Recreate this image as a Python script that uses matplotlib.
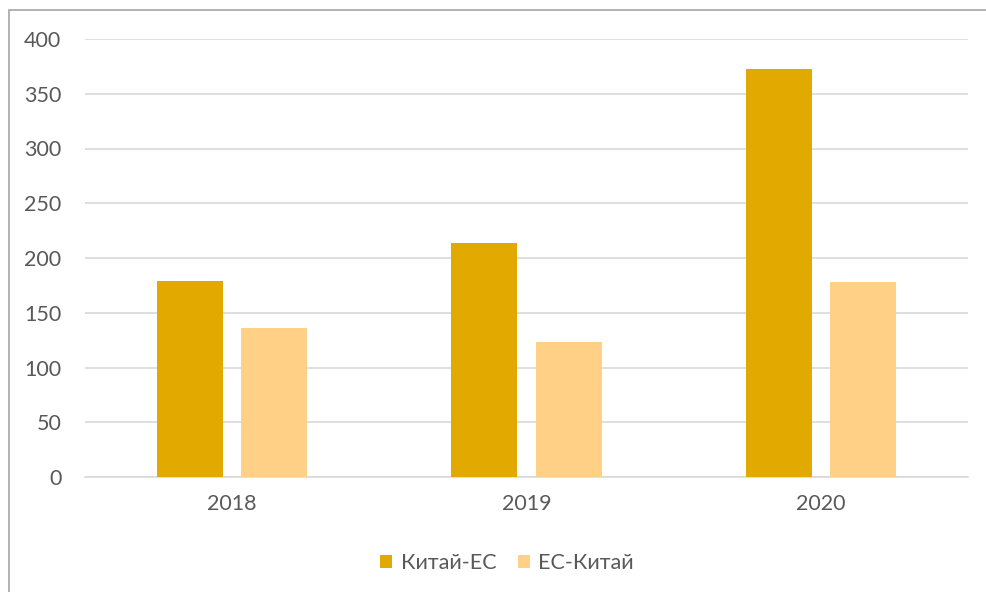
import numpy as np
import matplotlib.pyplot as plt
from matplotlib.patches import Rectangle

years = ["2018", "2019", "2020"]
china_eu = [179, 214, 373]
eu_china = [136, 123, 178]
series_names = ["Китай-ЕС", "ЕС-Китай"]

plt.rcParams['font.family'] = ['Lato', 'DejaVu Sans']
text_col = "#595959"
grid_col = "#d9d9d9"

fig = plt.figure(figsize=(9.86, 5.92), dpi=100)
ax = fig.add_axes([85 / 986, 1 - 477 / 592, (968 - 85) / 986, (477 - 39) / 592])

# frame around the chart (only left and top visible in reference)
fig.patches.append(Rectangle((9 / 986, -0.1), 1.2, 1 - 10 / 592 + 0.1, transform=fig.transFigure,
                             fill=False, edgecolor="#a6a6a6", linewidth=1.2))

x = np.arange(len(years))
w = 0.224
off = 0.143
ax.bar(x - off, china_eu, w, color="#E2A900", label=series_names[0], zorder=3)
ax.bar(x + off, eu_china, w, color="#FFD085", label=series_names[1], zorder=3)

ax.set_xlim(-0.5, 2.5)
ax.set_ylim(0, 400)
ax.set_yticks(range(0, 401, 50))
ax.set_xticks(x)
ax.set_xticklabels(years)
ax.yaxis.grid(True, color=grid_col, linewidth=1.2, zorder=0)
ax.set_axisbelow(True)
for s in ["top", "right", "left"]:
    ax.spines[s].set_visible(False)
ax.spines["bottom"].set_color(grid_col)
ax.spines["bottom"].set_linewidth(1.2)
ax.tick_params(axis="both", length=0, labelsize=15.5, colors=text_col)
ax.tick_params(axis="y", pad=17)
ax.tick_params(axis="x", pad=12)

leg = fig.legend(loc="center", bbox_to_anchor=(507 / 986, 1 - 563 / 592), ncol=2, frameon=False,
                 fontsize=15.5, handlelength=0.55, handleheight=0.55, handletextpad=0.4,
                 columnspacing=1.0)
for t in leg.get_texts():
    t.set_color(text_col)

fig.savefig("out.png", dpi=100)
